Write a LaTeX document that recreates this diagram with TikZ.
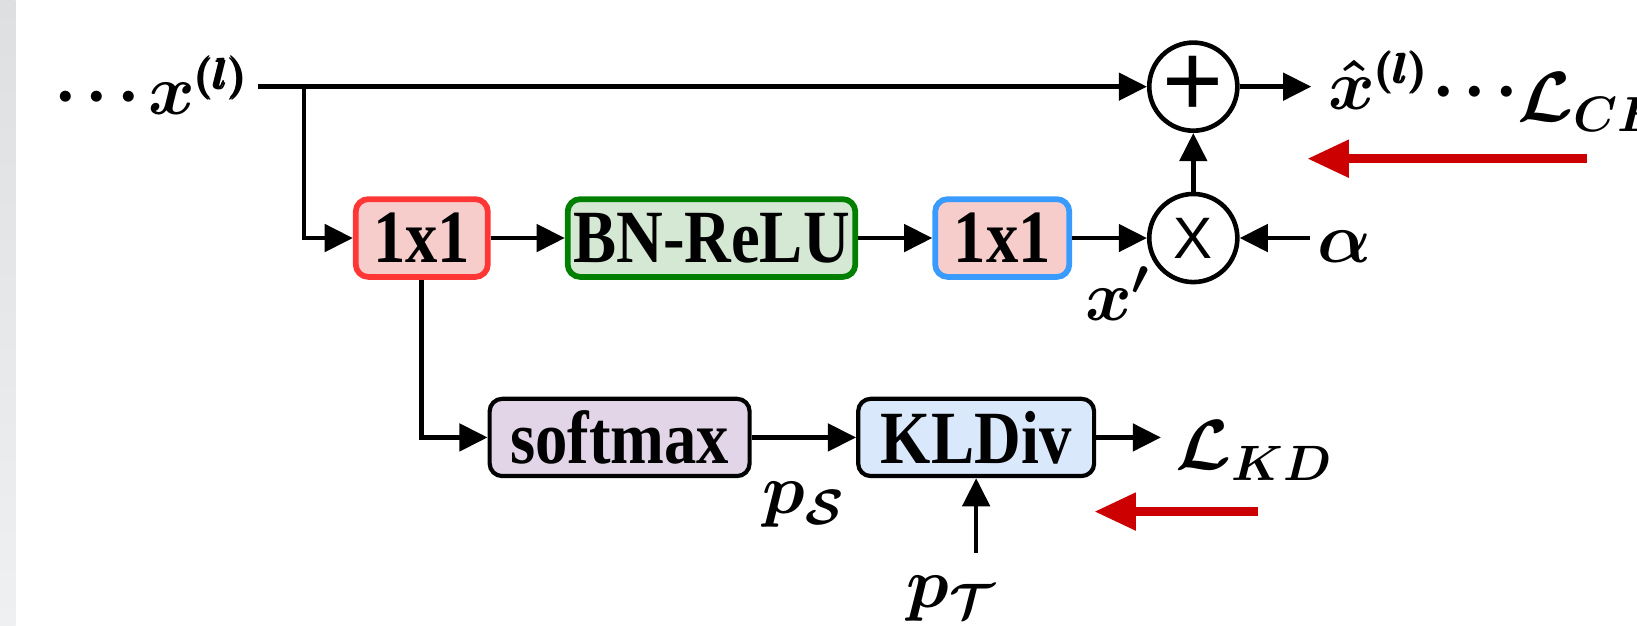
\RequirePackage{fix-cm}
\documentclass[tikz,border=0pt]{standalone}
\usepackage{amsmath,bm}
\usepackage{graphicx}
\usepackage[no-math]{fontspec}
\usetikzlibrary{arrows.meta,calc}
\newfontfamily\boxfont{Liberation Serif}[FakeStretch=0.86]
\newfontfamily\symfont{Liberation Sans}

% slightly reduced heavy superscript, and spaced centred dots
\newcommand\layersup[1]{\scalebox{0.85}{\boldmath$\scriptstyle\pmb{#1}$}}
\newcommand\bdot{{\bm{\cdot}}}
\newcommand\dotrow{\bdot\mkern2.3mu\bdot\mkern2.3mu\bdot}

\definecolor{redfill}{HTML}{F6CDCB}
\definecolor{redline}{HTML}{FF3636}
\definecolor{greenfill}{HTML}{D5E8D4}
\definecolor{greenline}{HTML}{007F00}
\definecolor{blueline}{HTML}{3A9BFF}
\definecolor{violetfill}{HTML}{E1D5E7}
\definecolor{bluefill}{HTML}{DAE8FC}
\definecolor{lossred}{HTML}{CC0000}
\definecolor{stripA}{HTML}{DEDFE1}
\definecolor{stripB}{HTML}{EFF0F2}

\tikzset{
  conn/.style={line width=2.2pt, -{Triangle[length=13.5pt,width=13pt]}},
  lossarrow/.style={draw=lossred, line width=4.5pt,
    -{Triangle[length=20pt,width=17pt]}, color=lossred},
  block/.style={rounded corners=6pt, inner sep=0pt, minimum height=37.25pt,
    font={\boxfont\bfseries\fontsize{36}{42}\selectfont}},
  convbox/.style={block, line width=2.75pt, fill=redfill},
  plainbox/.style={block, draw=black, line width=2pt, minimum height=37pt},
  op/.style={circle, draw=black, line width=2.2pt, minimum size=42.2pt,
    inner sep=0pt, fill=white},
  mathlbl/.style={inner sep=0pt, font={\fontsize{34}{40}\selectfont}},
}

\begin{document}
\begin{tikzpicture}[x=0.5pt,y=-0.5pt]
\useasboundingbox (0,0) rectangle (1568,599);
\clip (0,0) rectangle (1568,599);

% side strip
\shade[top color=stripA, bottom color=stripB] (0,0) rectangle (15,599);

% blocks of the adapter branch
\node[convbox, draw=redline, minimum width=63.25pt] (c1) at (404,228) {1x1};
\node[block, draw=greenline, line width=2.75pt, fill=greenfill,
      minimum width=137.75pt] (bn) at (681.5,228) {BN-ReLU};
\node[convbox, draw=blueline, minimum width=64.25pt] (c2) at (960,228) {1x1};

% operators
\node[op, font={\symfont\fontsize{28}{28}\selectfont}] (mul) at (1143,228) {X};
\node[op, font={\symfont\fontsize{50}{50}\selectfont}] (add) at (1143,83) {\raisebox{-2.5pt}{+}};

% distillation branch
\node[plainbox, fill=violetfill, minimum width=124.5pt] (sm) at (593.5,419) {softmax};
\node[plainbox, fill=bluefill, minimum width=113pt] (kl) at (935,419) {KLDiv};

% labels
\node[mathlbl, anchor=base east, inner xsep=4.5pt] (xin) at (247,110)
  {$\dotrow\mkern2mu\bm{x}^{\layersup{(l)}}$};
\node[mathlbl, anchor=base west, inner xsep=8pt] (xout) at (1256,105)
  {$\bm{\hat{x}}^{\layersup{(l)}}\mkern1mu\dotrow$};
\node[mathlbl, anchor=base west] (lce) at (1453,116) {$\bm{\mathcal{L}_{CE}}$};
\node[mathlbl, anchor=base west, inner xsep=3.5pt] (alpha) at (1255,251) {$\bm{\alpha}$};
\node[mathlbl, anchor=base west] (xp) at (1039,307) {$\bm{x'}$};
\node[mathlbl, anchor=base west, inner xsep=7pt] (lkd) at (1112,450) {$\bm{\mathcal{L}_{KD}}$};
\node[mathlbl, anchor=base west] (ps) at (730,492) {$\bm{p_{\mathcal{S}}}$};
\node[mathlbl, anchor=base west, inner ysep=11pt] (pt) at (868,582) {$\bm{p_{\mathcal{T}}}$};

% main path and residual
\coordinate (split) at (291,83);
\draw[conn] (xin.east |- add.west) -- (add.west);
\draw[conn] (split) |- (c1.west);
\draw[conn] (c1.east) -- (bn.west);
\draw[conn] (bn.east) -- (c2.west);
\draw[conn] (c2.east) -- (mul.west);
\draw[conn] (alpha.west |- mul.east) -- (mul.east);
\draw[conn] (mul.north) -- (add.south);
\draw[conn] (add.east) -- (xout.west |- add.east);

% distillation path
\draw[conn] (c1.south) |- (sm.west);
\draw[conn] (sm.east) -- (kl.west);
\draw[conn] (kl.east) -- (lkd.west |- kl.east);
\draw[conn] (kl.south |- pt.north) -- (kl.south);

% gradient flow arrows
\coordinate (g1a) at (1520,152);
\coordinate (g1b) at (1252,152);
\coordinate (g2a) at (1205,490);
\coordinate (g2b) at (1048,490);
\draw[lossarrow] (g1a) -- (g1b);
\draw[lossarrow] (g2a) -- (g2b);
\end{tikzpicture}
\end{document}
